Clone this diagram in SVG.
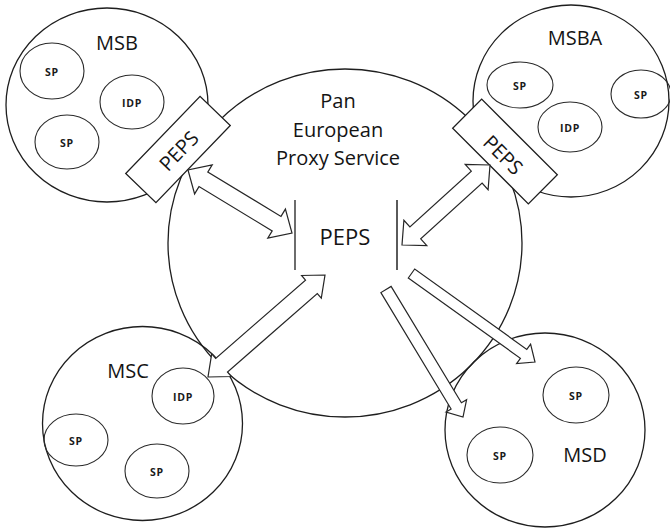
<svg xmlns="http://www.w3.org/2000/svg" width="670" height="529" viewBox="0 0 670 529">
  <style>
    .ring { fill: none; stroke: #1e1e1e; stroke-width: 1.3; }
    .sub { fill: none; stroke: #2a2a2a; stroke-width: 1.1; }
    .box { fill: #ffffff; stroke: #1e1e1e; stroke-width: 1.3; }
    .arrow { fill: #ffffff; stroke: #262626; stroke-width: 1.2; stroke-linejoin: miter; }
    .lbl { font-family: "Open Sans", "Liberation Sans", sans-serif; font-size: 20px; fill: #141414; text-anchor: middle; }
    .small { font-family: "Open Sans", "Liberation Sans", sans-serif; font-size: 10.5px; font-weight: bold; fill: #1a1a1a; text-anchor: middle; letter-spacing: 0.8px; }
    .bar { stroke: #1e1e1e; stroke-width: 1.3; }
  </style>
  <rect width="670" height="529" fill="#ffffff"/>

  <g id="msb">
    <ellipse class="ring" cx="107" cy="105" rx="101" ry="97"/>
    <text class="lbl" x="117" y="50">MSB</text>
    <ellipse class="sub" cx="52" cy="71" rx="32" ry="28"/>
    <text class="small" x="52" y="76">SP</text>
    <ellipse class="sub" cx="132" cy="102" rx="32" ry="27"/>
    <text class="small" x="132" y="107">IDP</text>
    <ellipse class="sub" cx="67" cy="142" rx="32" ry="27"/>
    <text class="small" x="67" y="147">SP</text>
  </g>

  <g id="msba">
    <ellipse class="ring" cx="571" cy="101" rx="98" ry="96"/>
    <text class="lbl" x="575" y="45">MSBA</text>
    <ellipse class="sub" cx="520" cy="85" rx="33" ry="23"/>
    <text class="small" x="520" y="90">SP</text>
    <ellipse class="sub" cx="570" cy="127" rx="32" ry="25"/>
    <text class="small" x="570" y="132">IDP</text>
    <ellipse class="sub" cx="641" cy="94" rx="30" ry="24"/>
    <text class="small" x="641" y="99">SP</text>
  </g>

  <g id="msc">
    <ellipse class="ring" cx="142.5" cy="423.5" rx="100" ry="97"/>
    <text class="lbl" x="128" y="378">MSC</text>
    <ellipse class="sub" cx="183" cy="396" rx="31" ry="28"/>
    <text class="small" x="183" y="401">IDP</text>
    <ellipse class="sub" cx="76" cy="440" rx="32" ry="26"/>
    <text class="small" x="76" y="445">SP</text>
    <ellipse class="sub" cx="157" cy="471" rx="32" ry="27"/>
    <text class="small" x="157" y="476">SP</text>
  </g>

  <g id="msd">
    <ellipse class="ring" cx="545" cy="430" rx="100" ry="97"/>
    <text class="lbl" x="585" y="462">MSD</text>
    <ellipse class="sub" cx="576" cy="395" rx="33" ry="28"/>
    <text class="small" x="576" y="400">SP</text>
    <ellipse class="sub" cx="500" cy="455" rx="33" ry="28"/>
    <text class="small" x="500" y="460">SP</text>
  </g>

  <g id="pan-european-proxy-service">
    <ellipse class="ring" cx="345" cy="243" rx="177" ry="174"/>
    <text class="lbl" x="338" y="108">Pan</text>
    <text class="lbl" x="338" y="137">European</text>
    <text class="lbl" x="338" y="165">Proxy Service</text>
    <line class="bar" x1="295" y1="200" x2="295" y2="270"/>
    <line x1="397" y1="200" x2="397" y2="270" stroke="#5a5a5a" stroke-width="2"/>
    <text class="lbl" x="345" y="245" font-size="22" style="font-size:22px">PEPS</text>
  </g>

  <g id="peps-msb">
    <rect class="box" x="-53.5" y="-21" width="107" height="42" transform="translate(178 149.5) rotate(-46)"/>
    <text class="lbl" x="0" y="7" transform="translate(179 151) rotate(-46)">PEPS</text>
  </g>

  <g id="peps-msba">
    <rect class="box" x="-53.5" y="-20.5" width="107" height="41" transform="translate(505 151.5) rotate(45)"/>
    <text class="lbl" x="0" y="7" transform="translate(503 155) rotate(45)">PEPS</text>
  </g>

  <g id="connectors">
    <polygon class="arrow" points="188,170 194.6,193.9 199,186.6 272.2,230.9 267.8,238.2 292,233 285.4,209.1 281,216.4 207.8,172.1 212.2,164.8"/>
    <polygon class="arrow" points="402,245 426.8,245.5 420.7,238.8 482.1,183 488.1,189.7 490,165 465.2,164.5 471.3,171.2 409.9,227 403.9,220.3"/>
    <polygon class="arrow" points="208,377 231.4,376.5 227.5,372 317.3,293.6 321.3,298.1 325,275 301.6,275.5 305.5,280.1 215.7,358.4 211.7,353.9"/>
    <polygon class="arrow" points="408.3,278 520.4,358.3 516.6,363.6 535,362 530.6,344.1 526.8,349.4 414.7,269"/>
    <polygon class="arrow" points="380.9,292.6 451.1,409 446,412.1 463,417 466.6,399.7 461.4,402.8 391.1,286.4"/>
  </g>
</svg>
